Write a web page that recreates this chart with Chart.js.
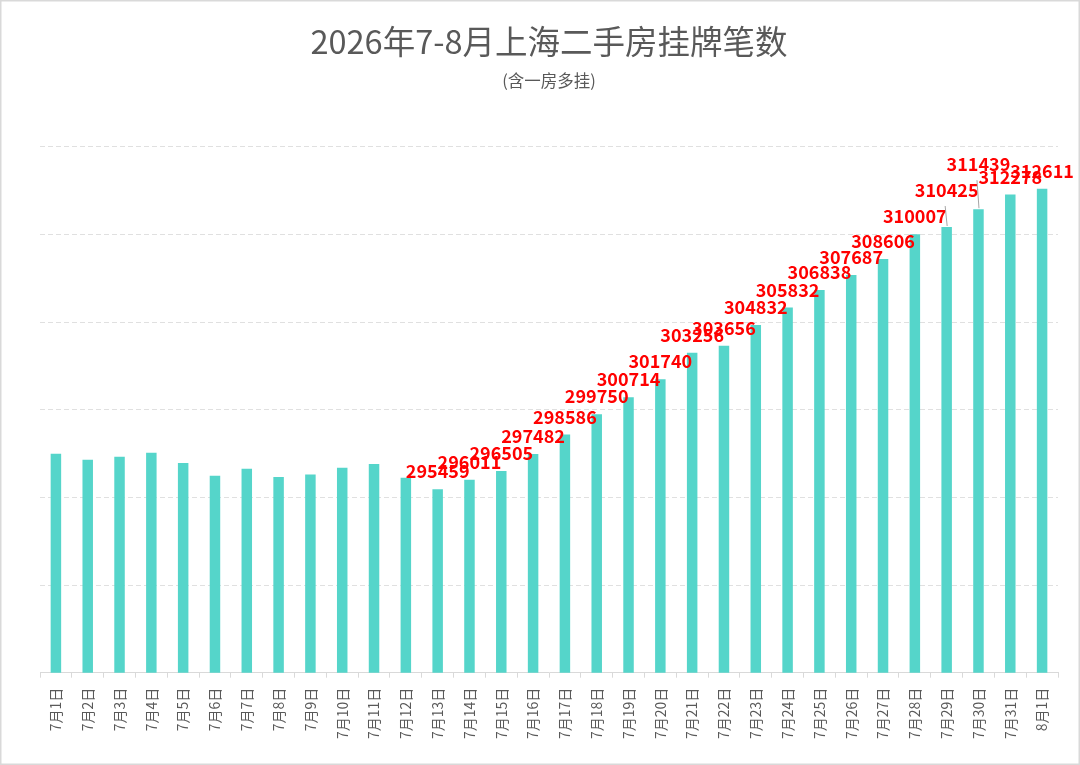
<!DOCTYPE html>
<html>
<head>
<meta charset="utf-8">
<script src="https://cdn.jsdelivr.net/npm/chart.js@4"></script>
<style>
  html, body { margin: 0; padding: 0; background: #ffffff; }
  #wrap { position: relative; width: 1080px; height: 765px; }
</style>
</head>
<body>
<div id="wrap"><canvas id="c"></canvas></div>
<script>
// ---- data ----
const categories = [
  "7月1日","7月2日","7月3日","7月4日","7月5日","7月6日","7月7日","7月8日",
  "7月9日","7月10日","7月11日","7月12日","7月13日","7月14日","7月15日","7月16日",
  "7月17日","7月18日","7月19日","7月20日","7月21日","7月22日","7月23日","7月24日",
  "7月25日","7月26日","7月27日","7月28日","7月29日","7月30日","7月31日","8月1日"
];
const listings = [
  297490, 297150, 297320, 297550, 296960, 296240, 296630, 296160,
  296310, 296690, 296900, 296120, 295459, 296011, 296505, 297482,
  298586, 299750, 300714, 301740, 303256, 303656, 304832, 305832,
  306838, 307687, 308606, 310007, 310425, 311439, 312278, 312611
];
const labelFromIndex = 12;           // value labels shown from 7月13日 on
const yMin = 285000, yMax = 315000, yStep = 5000;

const titleText = "2026年7-8月上海二手房挂牌笔数";
const subtitleText = "(含一房多挂)";

// style: labels lifted with leader lines (index -> px)
const labelLift = { 28: 19, 29: 27 };

const valueLabels = {
  id: 'valueLabels',
  afterDatasetsDraw(chart) {
    const ctx = chart.ctx;
    const meta = chart.getDatasetMeta(0);
    ctx.save();
    ctx.font = 'bold 18px "Noto Sans CJK SC", "Noto Sans", sans-serif';
    ctx.fillStyle = '#FF0000';
    ctx.textAlign = 'center';
    ctx.textBaseline = 'alphabetic';
    for (let i = labelFromIndex; i < listings.length; i++) {
      const bar = meta.data[i];
      const lift = labelLift[i] || 0;
      const ty = bar.y - 11 - lift;
      if (lift) {
        ctx.save();
        ctx.strokeStyle = '#A6A6A6';
        ctx.lineWidth = 1;
        ctx.beginPath();
        ctx.moveTo(bar.x - 1.5, ty + 9);
        ctx.lineTo(bar.x + 0.5, bar.y - 1);
        ctx.stroke();
        ctx.restore();
      }
      ctx.fillText(String(listings[i]), bar.x, ty);
    }
    ctx.restore();
  }
};

const frame = {
  id: 'frame',
  beforeDraw(chart) {
    const ctx = chart.ctx;
    ctx.save();
    ctx.fillStyle = '#ffffff';
    ctx.fillRect(0, 0, chart.width, chart.height);
    ctx.restore();
  },
  afterDraw(chart) {
    const ctx = chart.ctx;
    ctx.save();
    ctx.strokeStyle = '#D9D9D9';
    ctx.lineWidth = 1.5;
    ctx.strokeRect(0.75, 0.75, chart.width - 1.5, chart.height - 1.5);
    ctx.restore();
  }
};

new Chart(document.getElementById('c'), {
  type: 'bar',
  data: {
    labels: categories,
    datasets: [{
      data: listings,
      backgroundColor: '#55D5CA',
      borderWidth: 0,
      barPercentage: 0.33,
      categoryPercentage: 1.0
    }]
  },
  options: {
    responsive: true,
    maintainAspectRatio: false,
    animation: false,
    layout: { padding: { left: 40, right: 22, top: 0, bottom: 16 } },
    plugins: {
      legend: { display: false },
      tooltip: { enabled: false },
      title: {
        display: true,
        text: titleText,
        color: '#595959',
        font: { family: '"Noto Sans CJK SC", "Noto Sans", sans-serif', size: 32.5, weight: 'normal' },
        padding: { top: 22, bottom: 10 }
      },
      subtitle: {
        display: true,
        text: subtitleText,
        color: '#595959',
        font: { family: '"Noto Sans CJK SC", "Noto Sans", sans-serif', size: 16.5, weight: 'normal' },
        padding: { top: 0, bottom: 56 }
      }
    },
    scales: {
      x: {
        offset: true,
        grid: {
          display: true,
          drawOnChartArea: false,
          drawTicks: true,
          tickLength: 5,
          color: '#D9D9D9',
          offset: true
        },
        border: { display: true, color: '#D9D9D9', width: 1 },
        ticks: {
          autoSkip: false,
          maxRotation: 90,
          minRotation: 90,
          padding: 10,
          color: '#595959',
          font: { family: '"Noto Sans CJK SC", "Noto Sans", sans-serif', size: 14 }
        }
      },
      y: {
        min: yMin,
        max: yMax,
        ticks: { display: false, stepSize: yStep },
        grid: {
          color: '#E0E0E0',
          lineWidth: 1,
          drawTicks: false
        },
        border: { display: false, dash: [5, 3] }
      }
    }
  },
  plugins: [frame, valueLabels]
});
</script>
</body>
</html>
